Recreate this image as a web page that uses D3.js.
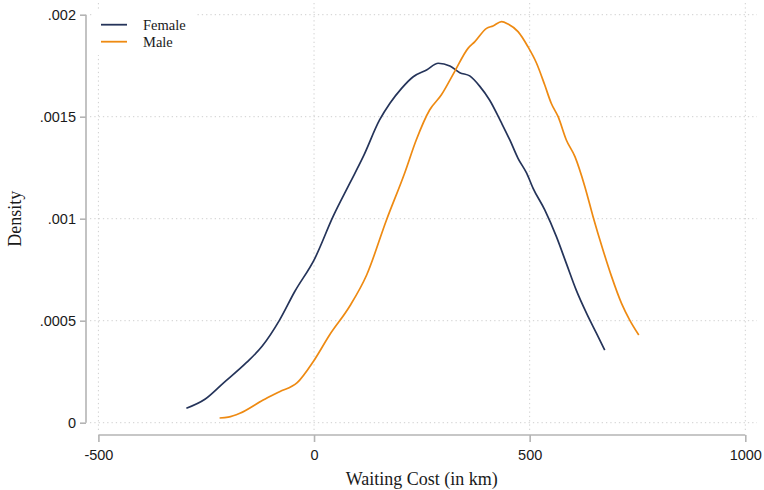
<!DOCTYPE html>
<html>
<head>
<meta charset="utf-8">
<script src="https://cdn.jsdelivr.net/npm/d3@7"></script>
<style>
    body { margin: 0; background: #fff; }
    svg { display: block; }
</style>
</head>
<body>
<script>

// kernel density estimates
var femaleX = [-296, -253, -211, -157, -120, -80, -45, 2, 44, 83, 114, 152, 176, 203, 230, 261, 288, 315, 338, 361, 384, 407, 435, 454, 473, 493, 508, 535, 562, 585, 608, 632, 655, 674];
var femaleY = [0.000071, 0.000115, 0.000193, 0.000294, 0.000376, 0.000503, 0.000642, 0.000806, 0.00101, 0.001174, 0.001304, 0.001484, 0.001566, 0.001639, 0.001696, 0.001729, 0.001762, 0.001749, 0.001716, 0.0017, 0.00165, 0.001582, 0.001468, 0.001386, 0.001296, 0.001223, 0.001149, 0.001043, 0.000912, 0.000781, 0.00065, 0.000536, 0.000438, 0.000356];

var maleX = [-219, -199, -172, -118, -80, -39, -2, 36, 83, 122, 168, 210, 237, 268, 295, 326, 357, 373, 400, 415, 435, 450, 473, 496, 516, 535, 550, 566, 585, 605, 628, 647, 670, 690, 713, 732, 753];
var maleY = [0.000023, 0.000027, 0.000046, 0.000111, 0.000152, 0.000196, 0.000299, 0.00043, 0.000572, 0.000724, 0.000994, 0.001223, 0.001386, 0.001533, 0.001606, 0.001721, 0.001835, 0.001868, 0.001933, 0.001945, 0.001966, 0.001954, 0.001917, 0.001843, 0.001762, 0.001655, 0.001566, 0.0015, 0.001386, 0.001304, 0.001157, 0.00101, 0.000847, 0.000716, 0.000585, 0.000503, 0.00043];

var xTicks = [-500, 0, 500, 1000];
var xTickLabels = ["-500", "0", "500", "1000"];
var yTicks = [0, 0.0005, 0.001, 0.0015, 0.002];
var yTickLabels = ["0", ".0005", ".001", ".0015", ".002"];

var seriesNames = ["Female", "Male"];
var seriesColors = ["#25345a", "#ee8a12"];

var width = 764, height = 490;

var x = d3.scaleLinear().domain([-500, 1000]).range([98.4, 745.3]);
var y = d3.scaleLinear().domain([0, 0.002]).range([422.7, 14.7]);

var svg = d3.select("body")
    .append("svg")
        .attr("width", width)
        .attr("height", height);

var gridColor = "#cfcfcf";
var axisColor = "#b4b4b4";

// grid
svg.append("g")
    .selectAll("line")
    .data(yTicks)
    .enter()
    .append("line")
        .attr("x1", 90)
        .attr("x2", 757)
        .attr("y1", function (d) { return y(d); })
        .attr("y2", function (d) { return y(d); })
        .attr("stroke", gridColor)
        .attr("stroke-width", 1)
        .attr("stroke-dasharray", "1.3,3");

svg.append("g")
    .selectAll("line")
    .data(xTicks)
    .enter()
    .append("line")
        .attr("x1", function (d) { return x(d); })
        .attr("x2", function (d) { return x(d); })
        .attr("y1", 3)
        .attr("y2", 432)
        .attr("stroke", gridColor)
        .attr("stroke-width", 1)
        .attr("stroke-dasharray", "1.3,3");

// axes
var yAxis = d3.axisLeft(y)
    .tickValues(yTicks)
    .tickFormat(function (d, i) { return yTickLabels[i]; })
    .tickSize(6)
    .tickPadding(4);

var xAxis = d3.axisBottom(x)
    .tickValues(xTicks)
    .tickFormat(function (d, i) { return xTickLabels[i]; })
    .tickSize(7)
    .tickPadding(8);

var gy = svg.append("g")
    .attr("transform", "translate(86,0)")
    .call(yAxis);

var gx = svg.append("g")
    .attr("transform", "translate(0,435)")
    .call(xAxis);

[gx, gy].forEach(function (g) {
    g.select(".domain")
        .attr("stroke", axisColor)
        .attr("stroke-width", 1.6);
    g.selectAll(".tick line")
        .attr("stroke", axisColor)
        .attr("stroke-width", 1.6);
    g.selectAll(".tick text")
        .attr("fill", "#1a1a1a")
        .style("font-family", "'Liberation Sans', Arial, sans-serif")
        .style("font-size", "14.5px");
});

gy.select(".domain").attr("d", "M0," + y(0) + "V" + y(0.002));
gx.select(".domain").attr("d", "M" + x(-500) + ",0H" + x(1000));

// axis titles
svg.append("text")
    .attr("x", x(250))
    .attr("y", 485)
    .attr("text-anchor", "middle")
    .style("font-family", "'Liberation Serif', 'Times New Roman', serif")
    .style("font-size", "18px")
    .attr("fill", "#1a1a1a")
    .text("Waiting Cost (in km)");

svg.append("text")
    .attr("transform", "translate(21," + y(0.001) + ") rotate(-90)")
    .attr("text-anchor", "middle")
    .style("font-family", "'Liberation Serif', 'Times New Roman', serif")
    .style("font-size", "18px")
    .attr("fill", "#1a1a1a")
    .text("Density");

// density curves
var line = d3.line()
    .x(function (d) { return x(d[0]); })
    .y(function (d) { return y(d[1]); })
    .curve(d3.curveMonotoneX);

var series = [
    d3.zip(femaleX, femaleY),
    d3.zip(maleX, maleY)
];

svg.append("g")
    .selectAll("path")
    .data(series)
    .enter()
    .append("path")
        .attr("d", line)
        .attr("fill", "none")
        .attr("stroke", function (d, i) { return seriesColors[i]; })
        .attr("stroke-width", 1.7)
        .attr("stroke-linejoin", "round");

// legend
var legend = svg.append("g");

legend.append("rect")
    .attr("x", 92)
    .attr("y", 9)
    .attr("width", 104)
    .attr("height", 46)
    .attr("fill", "#fff");

var items = legend.selectAll("g")
    .data(seriesNames)
    .enter()
    .append("g")
        .attr("transform", function (d, i) { return "translate(0," + (24.7 + i * 17) + ")"; });

items.append("line")
    .attr("x1", 101)
    .attr("x2", 127)
    .attr("stroke", function (d, i) { return seriesColors[i]; })
    .attr("stroke-width", 1.8);

items.append("text")
    .attr("x", 143)
    .attr("y", 5.5)
    .style("font-family", "'Liberation Serif', 'Times New Roman', serif")
    .style("font-size", "14.5px")
    .attr("fill", "#1a1a1a")
    .text(function (d) { return d; });

</script>
</body>
</html>
